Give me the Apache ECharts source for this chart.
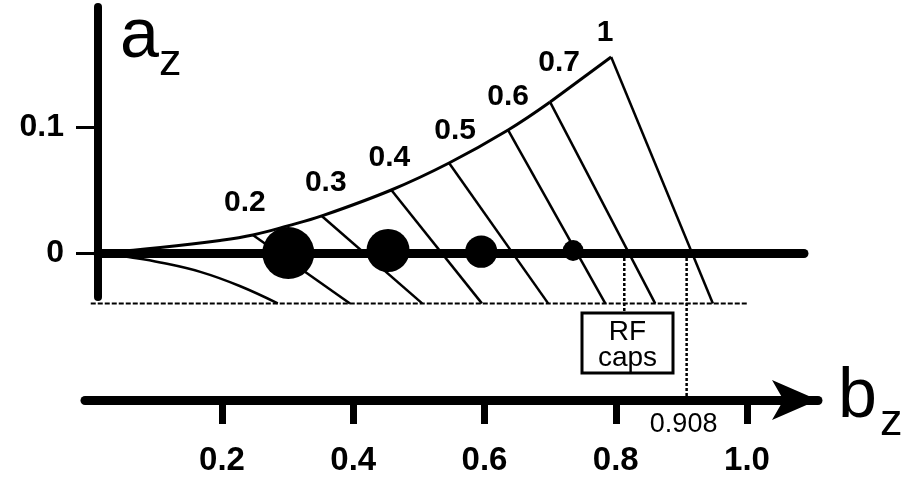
<!DOCTYPE html>
<html><head><meta charset="utf-8">
<script src="https://cdn.jsdelivr.net/npm/echarts@6/dist/echarts.min.js"></script>
<style>html,body{margin:0;padding:0;background:#fff}#c{width:909px;height:478px}</style>
</head><body><div id="c"></div>
<script>
// ---------------- data ----------------
const xTicks = [0.2, 0.4, 0.6, 0.8, 1.0];
const yTicks = [0, 0.1];
// upper boundary curve (b_z, a_z) up to the 0.7 line, then a straight edge to the "1" vertex
const upperB = [0.014, 0.106, 0.197, 0.247, 0.300, 0.352, 0.458, 0.546, 0.636, 0.700];
const upperA = [0.000, 0.0044, 0.0100, 0.0143, 0.0215, 0.0294, 0.0500, 0.0714, 0.0976, 0.1198];
const vertexB = 0.793, vertexA = 0.1556;
// lower boundary curve
const lowerB = [0.014, 0.060, 0.106, 0.167, 0.227, 0.285];
const lowerA = [0.000, -0.0034, -0.0075, -0.0150, -0.0262, -0.0400];
// constant-parameter lines
const hatchLabels = ['0.2', '0.3', '0.4', '0.5', '0.6', '0.7', '1'];
const hatchTopB = [0.247, 0.352, 0.458, 0.546, 0.636, 0.700, 0.793];
const hatchTopA = [0.0143, 0.0294, 0.0500, 0.0714, 0.0976, 0.1198, 0.1556];
const hatchBottomB = [0.395, 0.505, 0.596, 0.697, 0.784, 0.860, 0.948];
const floorA = -0.04;
const floorB = [0, 1.0];
// filled circles on the a_z = 0 line
const bubbleB = [0.301, 0.453, 0.595, 0.735];
const bubbleA = [0, 0.002, 0.001, 0.002];
const bubbleWeight = [1.0, 0.83, 0.62, 0.40];
const rfCapsB = 0.813;
const cutoffB = 0.908;

// ---------------- layout (pixel frame) ----------------
const W = 909, H = 478;
const X0 = 90.75, XS = 656.25;   // px of b=0, px per unit b
const Y0 = 253, YS = 1260;       // px of a=0, px per unit a
const bAt = px => (px - X0) / XS;
const aAt = py => (Y0 - py) / YS;
const FONT = '"Liberation Sans", Arial, Helvetica, sans-serif';
const K = '#000';

const labelNudge = [[-8, 0], [4, -1], [-2, 0], [6, 0], [0, -1], [9, -7], [-6, 8]];

const series = [];
const lineBase = { type: 'line', xAxisIndex: 0, yAxisIndex: 0, showSymbol: false, silent: true, z: 3 };
series.push(Object.assign({}, lineBase, {
  smooth: 0.4,
  data: upperB.map((b, i) => [b, upperA[i]]),
  lineStyle: { color: K, width: 3 }
}));
series.push(Object.assign({}, lineBase, {
  data: [[upperB[upperB.length - 1], upperA[upperA.length - 1]], [vertexB, vertexA]],
  lineStyle: { color: K, width: 3 }
}));
series.push(Object.assign({}, lineBase, {
  smooth: 0.4,
  data: lowerB.map((b, i) => [b, lowerA[i]]),
  lineStyle: { color: K, width: 2.5 }
}));
hatchTopB.forEach((b, i) => {
  series.push(Object.assign({}, lineBase, {
    data: [[b, hatchTopA[i]], [hatchBottomB[i], floorA]],
    lineStyle: { color: K, width: 2.5 }
  }));
});
series.push(Object.assign({}, lineBase, {
  data: floorB.map(b => [b, floorA]),
  lineStyle: { color: K, width: 2, type: [5, 2] }
}));
series.push(Object.assign({}, lineBase, {
  data: [[rfCapsB, 0], [rfCapsB, aAt(313)]],
  lineStyle: { color: K, width: 2.5, type: [3, 2] }
}));
series.push(Object.assign({}, lineBase, {
  data: [[cutoffB, 0], [cutoffB, aAt(398)]],
  lineStyle: { color: K, width: 2.5, type: [3, 2] }
}));
series.push({
  type: 'scatter', xAxisIndex: 0, yAxisIndex: 0, silent: true,
  data: bubbleB.map((b, i) => [b, bubbleA[i], bubbleWeight[i]]),
  symbolSize: d => d[2] * 52,
  itemStyle: { color: K, opacity: 1 }, z: 5
});
series.push({
  type: 'scatter', xAxisIndex: 0, yAxisIndex: 0, silent: true,
  symbolSize: 0, itemStyle: { color: K, opacity: 1 },
  data: hatchTopB.map((b, i) => ({
    value: [b, hatchTopA[i]],
    label: { offset: labelNudge[i] }
  })),
  label: {
    show: true, position: 'top', distance: 17,
    formatter: p => hatchLabels[p.dataIndex],
    color: K, opacity: 1, fontSize: 30, fontWeight: 'bold', fontFamily: FONT
  }, z: 6
});

const AX_END = 818;
const option = {
  backgroundColor: '#fff',
  animation: false,
  grid: [
    { left: 0, top: 0, width: W, height: H },
    { left: 85, top: 380, width: AX_END - 85, height: 20 },
    { left: 98, top: 7, width: 804 - 98, height: 297 - 7 }
  ],
  xAxis: [
    { type: 'value', gridIndex: 0, min: bAt(0), max: bAt(W), show: false },
    {
      type: 'value', gridIndex: 1, min: bAt(85), max: bAt(AX_END),
      axisLine: { show: true, onZero: false, lineStyle: { color: K, width: 9 },
        symbol: ['none', 'arrow'], symbolSize: [30, 46] },
      axisTick: { show: true, customValues: xTicks, length: 24, lineStyle: { color: K, width: 7 } },
      axisLabel: { show: true, customValues: xTicks, formatter: v => v.toFixed(1),
        color: K, fontSize: 33, fontWeight: 'bold', fontFamily: FONT, margin: 44 },
      splitLine: { show: false }
    },
    {
      type: 'value', gridIndex: 2, min: bAt(98), max: bAt(804),
      axisLine: { show: true, onZero: true, lineStyle: { color: K, width: 9 } },
      axisTick: { show: false }, axisLabel: { show: false }, splitLine: { show: false }
    }
  ],
  yAxis: [
    { type: 'value', gridIndex: 0, min: aAt(H), max: aAt(0), show: false },
    { type: 'value', gridIndex: 1, min: 0, max: 1, show: false },
    {
      type: 'value', gridIndex: 2, min: aAt(297), max: aAt(7),
      axisLine: { show: true, onZero: false, lineStyle: { color: K, width: 8 } },
      axisTick: { show: true, customValues: yTicks, length: 22, lineStyle: { color: K, width: 3 } },
      axisLabel: { show: true, customValues: yTicks, formatter: v => (v === 0 ? '0' : v.toFixed(1)),
        color: K, fontSize: 32, fontWeight: 'bold', fontFamily: FONT, margin: 34 },
      splitLine: { show: false }
    }
  ],
  series: series
};

const chart = echarts.init(document.getElementById('c'), null, { renderer: 'canvas' });
chart.setOption(option);

const cutX = chart.convertToPixel({ xAxisIndex: 0 }, cutoffB);
const txt = (x, y, text, size, align, weight) => ({
  type: 'text', x: x, y: y, silent: true, z: 100,
  style: { text: text, fill: K, fontSize: size, fontFamily: FONT, fontWeight: weight || 'normal',
    align: align || 'left', verticalAlign: 'middle',
    textAlign: align || 'left', textVerticalAlign: 'middle' }
});
chart.setOption({
  graphic: [
    txt(120, 38, 'a', 70), txt(159, 63, 'z', 45),
    txt(838, 398, 'b', 70), txt(880, 423, 'z', 45),
    {
      type: 'rect', z: 90, silent: true,
      shape: { x: 582, y: 313, width: 91, height: 60 },
      style: { fill: '#fff', stroke: K, lineWidth: 3 }
    },
    txt(627.5, 332, 'RF', 28, 'center'),
    txt(627.5, 358, 'caps', 28, 'center'),
    txt(cutX - 3, 425, String(cutoffB), 27, 'center')
  ]
});
</script>
</body></html>
